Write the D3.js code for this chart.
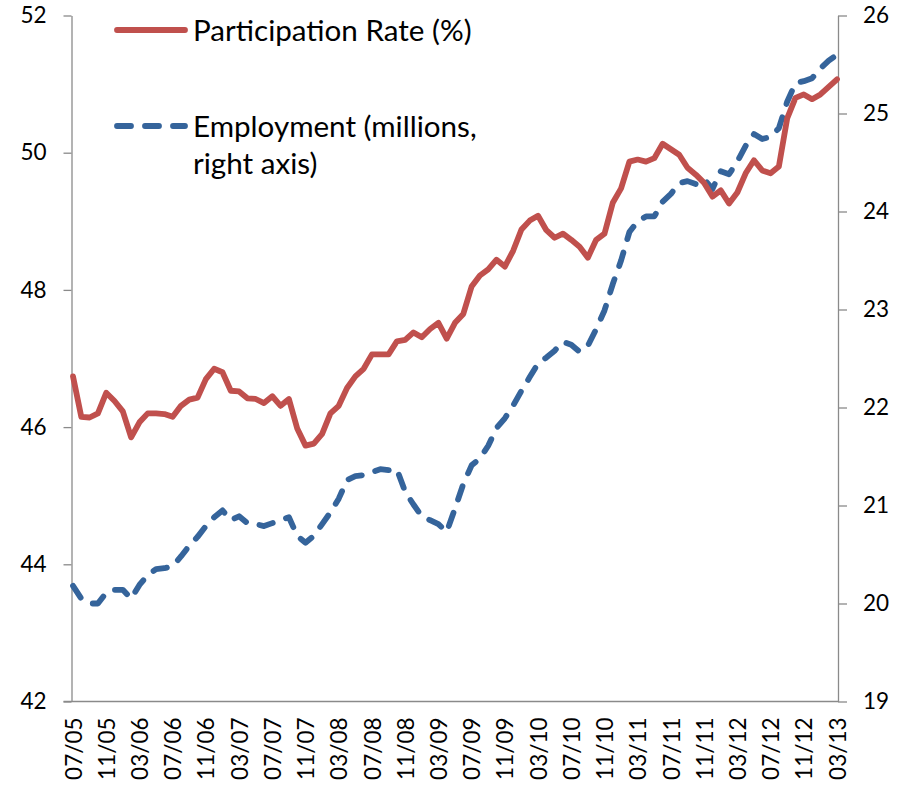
<!DOCTYPE html>
<html>
<head>
<meta charset="utf-8">
<script src="https://cdn.jsdelivr.net/npm/d3@7/dist/d3.min.js"></script>
<style>
  html, body { margin: 0; padding: 0; background: #fff; }
  svg { display: block; }
  text { font-family: Lato, "Open Sans", sans-serif; fill: #000; }
</style>
</head>
<body>
<svg id="chart" width="908" height="786"></svg>
<script>
// ---- Data ----
const tickLabels = ["07/05","11/05","03/06","07/06","11/06","03/07","07/07","11/07",
  "03/08","07/08","11/08","03/09","07/09","11/09","03/10","07/10","11/10","03/11",
  "07/11","11/11","03/12","07/12","11/12","03/13"];

const leftTicks = [42, 44, 46, 48, 50, 52];
const rightTicks = [19, 20, 21, 22, 23, 24, 25, 26];

// Participation Rate (%) monthly, 07/05 .. 03/13
const participation = [
  46.74, 46.15, 46.14, 46.20, 46.50, 46.38, 46.23, 45.85, 46.07, 46.20,
  46.20, 46.19, 46.15, 46.31, 46.40, 46.43, 46.70, 46.85, 46.80, 46.53,
  46.52, 46.42, 46.41, 46.35, 46.45, 46.31, 46.41, 45.98, 45.73, 45.76,
  45.90, 46.20, 46.31, 46.57, 46.74, 46.85, 47.06, 47.06, 47.06, 47.25,
  47.27, 47.38, 47.31, 47.43, 47.52, 47.29, 47.52, 47.65, 48.05, 48.21,
  48.30, 48.44, 48.34, 48.57, 48.88, 49.01, 49.08, 48.87, 48.76, 48.82,
  48.73, 48.63, 48.47, 48.73, 48.82, 49.27, 49.48, 49.87, 49.90, 49.87,
  49.92, 50.13, 50.05, 49.97, 49.78, 49.68, 49.56, 49.36, 49.45, 49.26,
  49.42, 49.70, 49.89, 49.74, 49.70, 49.80, 50.50, 50.80, 50.85, 50.78,
  50.85, 50.96, 51.07
];

// Employment (millions, right axis)
const employment = [
  20.18, 20.05, 20.00, 20.00, 20.11, 20.14, 20.14, 20.05, 20.19, 20.29,
  20.35, 20.36, 20.38, 20.48, 20.59, 20.68, 20.79, 20.88, 20.95, 20.85,
  20.89, 20.82, 20.81, 20.79, 20.82, 20.85, 20.88, 20.69, 20.62, 20.69,
  20.81, 20.93, 21.07, 21.26, 21.30, 21.31, 21.34, 21.37, 21.36, 21.37,
  21.14, 21.01, 20.89, 20.85, 20.81, 20.73, 20.97, 21.22, 21.41, 21.48,
  21.61, 21.79, 21.89, 22.02, 22.17, 22.31, 22.45, 22.51, 22.58, 22.67,
  22.64, 22.57, 22.63, 22.80, 22.99, 23.26, 23.50, 23.79, 23.90, 23.95,
  23.95, 24.10, 24.18, 24.29, 24.31, 24.28, 24.33, 24.23, 24.41, 24.38,
  24.51, 24.67, 24.79, 24.74, 24.76, 24.85, 25.12, 25.31, 25.33, 25.36,
  25.46, 25.54, 25.60
];

const seriesNames = ["Participation Rate (%)", "Employment (millions,", "right axis)"];

// ---- Layout ----
const fmt = d3.timeFormat("%m/%y");
const months = d3.timeMonths(new Date(2005, 6, 1), new Date(2013, 3, 1)).map(fmt);

const plotLeft = 71.5, plotRight = 838, plotTop = 15.5, plotBottom = 701.5;
const red = "#C0504D", blue = "#35649B", axisColor = "#8a8a8a";

const svg = d3.select("#chart");

const x = d3.scalePoint().domain(months).range([73, 837]);
const yL = d3.scaleLinear().domain([42, 52]).range([plotBottom, plotTop]);
const yR = d3.scaleLinear().domain([19, 26]).range([plotBottom, plotTop]);

// Left axis
const gL = svg.append("g").attr("transform", `translate(${plotLeft},0)`)
  .call(d3.axisLeft(yL).tickValues(leftTicks).tickSize(8).tickPadding(17).tickSizeOuter(0).tickFormat(d3.format("d")));
// Right axis
const gR = svg.append("g").attr("transform", `translate(${plotRight},0)`)
  .call(d3.axisRight(yR).tickValues(rightTicks).tickSize(9).tickPadding(16).tickSizeOuter(0).tickFormat(d3.format("d")));
[gL, gR].forEach(g => {
  g.select(".domain").attr("stroke", axisColor).attr("stroke-width", 1.3);
  g.selectAll(".tick line").attr("stroke", axisColor).attr("stroke-width", 1.3);
  g.selectAll(".tick text").attr("font-size", 22.5).attr("font-family", "Lato").attr("fill", "#000");
});

// Bottom axis (no tick marks)
const gX = svg.append("g").attr("transform", `translate(0,${plotBottom})`)
  .call(d3.axisBottom(x).tickValues(tickLabels).tickSize(0).tickPadding(0));
gX.select(".domain").attr("stroke", axisColor).attr("stroke-width", 1.3)
  .attr("d", `M${plotLeft - 8},0H${plotRight}`);
gX.selectAll(".tick text")
  .attr("font-size", 22.5).attr("font-family", "Lato").attr("fill", "#000")
  .attr("transform", "rotate(-90)")
  .attr("text-anchor", "end")
  .attr("x", -16).attr("y", 0).attr("dy", "0.36em");

// Lines
const lineL = d3.line().x((d, i) => x(months[i])).y(d => yL(d));
const lineR = d3.line().x((d, i) => x(months[i])).y(d => yR(d));

svg.append("path").datum(employment)
  .attr("d", lineR).attr("fill", "none")
  .attr("stroke", blue).attr("stroke-width", 5.8)
  .attr("stroke-dasharray", "14,14").attr("stroke-linecap", "round").attr("stroke-linejoin", "round");

svg.append("path").datum(participation)
  .attr("d", lineL).attr("fill", "none")
  .attr("stroke", red).attr("stroke-width", 5.8)
  .attr("stroke-linecap", "round").attr("stroke-linejoin", "round");

// Legend
const lg = svg.append("g");
lg.append("line").attr("x1", 117).attr("x2", 185).attr("y1", 30).attr("y2", 30)
  .attr("stroke", red).attr("stroke-width", 5.8).attr("stroke-linecap", "round");
lg.append("text").attr("x", 193).attr("y", 41).attr("font-size", 29.6).text(seriesNames[0]);

lg.append("line").attr("x1", 117).attr("x2", 185).attr("y1", 126).attr("y2", 126)
  .attr("stroke", blue).attr("stroke-width", 5.8).attr("stroke-linecap", "round")
  .attr("stroke-dasharray", "14,14");
lg.append("text").attr("x", 193).attr("y", 137).attr("font-size", 29.6).text(seriesNames[1]);
lg.append("text").attr("x", 193).attr("y", 174).attr("font-size", 29.6).text(seriesNames[2]);
</script>
</body>
</html>
